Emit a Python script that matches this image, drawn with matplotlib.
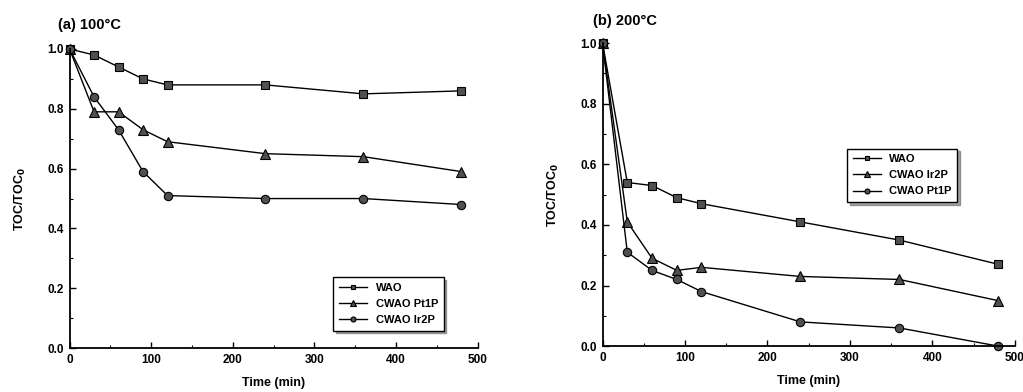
import numpy as np
import matplotlib
matplotlib.use('Agg')
import matplotlib.pyplot as plt
from matplotlib.ticker import MultipleLocator

plt.rcParams['font.family'] = ['Liberation Sans', 'DejaVu Sans']
plt.rcParams['font.weight'] = 'bold'

# time points (min)
time = [0, 30, 60, 90, 120, 240, 360, 480]

# (a) 100 C
wao_a = [1.0, 0.98, 0.94, 0.90, 0.88, 0.88, 0.85, 0.86]
pt1p_a = [1.0, 0.79, 0.79, 0.73, 0.69, 0.65, 0.64, 0.59]
ir2p_a = [1.0, 0.84, 0.73, 0.59, 0.51, 0.50, 0.50, 0.48]

# (b) 200 C
wao_b = [1.0, 0.54, 0.53, 0.49, 0.47, 0.41, 0.35, 0.27]
ir2p_b = [1.0, 0.41, 0.29, 0.25, 0.26, 0.23, 0.22, 0.15]
pt1p_b = [1.0, 0.31, 0.25, 0.22, 0.18, 0.08, 0.06, 0.0]

fig = plt.figure(figsize=(10.23, 3.92), dpi=100)
ax1 = fig.add_axes([0.068, 0.112, 0.399, 0.763])
ax2 = fig.add_axes([0.589, 0.117, 0.403, 0.773])

mk = dict(color='black', lw=1.0, mfc='#505050', mec='black', mew=0.8, clip_on=False)


def style(ax, title, tx, ty):
    ax.set_xlim(0, 500)
    ax.set_ylim(0, 1.0)
    ax.spines['top'].set_visible(False)
    ax.spines['right'].set_visible(False)
    ax.spines['left'].set_linewidth(1.3)
    ax.spines['bottom'].set_linewidth(1.3)
    ax.xaxis.set_major_locator(MultipleLocator(100))
    ax.xaxis.set_minor_locator(MultipleLocator(50))
    ax.yaxis.set_major_locator(MultipleLocator(0.2))
    ax.yaxis.set_minor_locator(MultipleLocator(0.1))
    ax.yaxis.set_major_formatter(plt.FormatStrFormatter('%.1f'))
    ax.tick_params(which='major', direction='in', length=4, width=1, labelsize=8.5, pad=4)
    ax.tick_params(which='minor', direction='in', length=2, width=0.8)
    ax.set_xlabel('Time (min)', fontsize=9, fontweight='bold', labelpad=8)
    ax.set_ylabel('TOC/TOC$_\\mathbf{0}$', fontsize=9, fontweight='bold', labelpad=14)
    fig.text(tx, ty, title, fontsize=10.5, fontweight='bold', va='center')


leg = dict(fontsize=8, markerscale=0.6, fancybox=False, shadow=True, edgecolor='black',
           framealpha=1, handlelength=2.5, borderpad=0.5, labelspacing=0.55)

ax1.plot(time, wao_a, marker='s', ms=6, label='WAO', **mk)
ax1.plot(time, pt1p_a, marker='^', ms=7, label='CWAO Pt1P', **mk)
ax1.plot(time, ir2p_a, marker='o', ms=6, label='CWAO Ir2P', **mk)
style(ax1, '(a) 100°C', 0.057, 0.937)
ax1.legend(loc='lower right', bbox_to_anchor=(0.93, 0.04), **leg)

ax2.plot(time, wao_b, marker='s', ms=6, label='WAO', **mk)
ax2.plot(time, ir2p_b, marker='^', ms=7, label='CWAO Ir2P', **mk)
ax2.plot(time, pt1p_b, marker='o', ms=6, label='CWAO Pt1P', **mk)
style(ax2, '(b) 200°C', 0.58, 0.947)
ax2.legend(loc='upper left', bbox_to_anchor=(0.58, 0.67), **leg)

fig.savefig('out.png', dpi=100)
